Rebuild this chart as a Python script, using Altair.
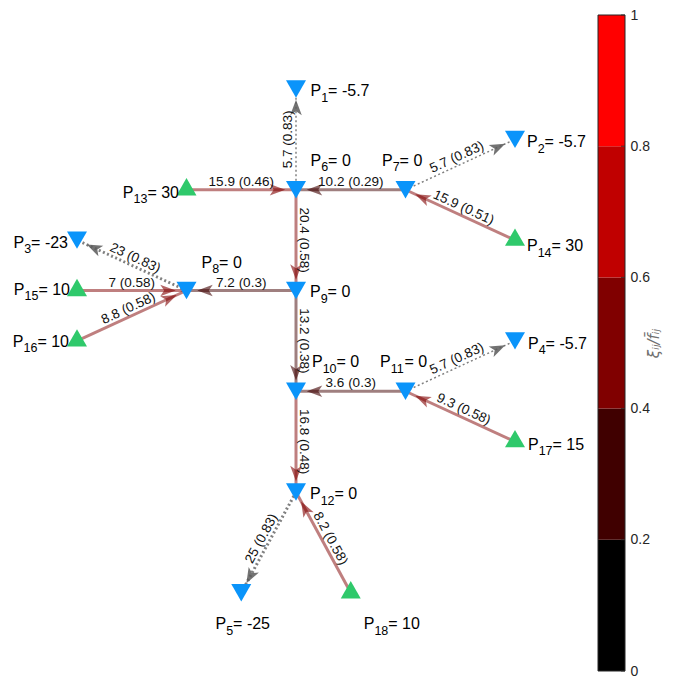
import math
import altair as alt
import pandas as pd

# ------------------------------------------------------------------ data
node_ids = list(range(1, 19))
node_x = [0, 2, -2, 2, -0.5, 0, 1, -1, 0, 0, 1, 0, -1, 2, -2, -2, 2, 0.5]
node_y = [4, 3.5, 2.5, 1.5, -1, 3, 3, 2, 2, 1, 1, 0, 3, 2.5, 2, 1.5, 0.5, -1]
node_value = ["-5.7", "-5.7", "-23", "-5.7", "-25", "0", "0", "0", "0", "0",
              "0", "0", "30", "30", "10", "10", "15", "10"]
node_type = ["demand"] * 12 + ["supply"] * 6

edge_src = [6, 7, 8, 11, 12, 13, 7, 14, 6, 15, 16, 9, 9, 11, 17, 10, 18]
edge_dst = [1, 2, 3, 4, 5, 6, 6, 7, 9, 8, 8, 8, 10, 10, 11, 12, 12]
edge_flow = [5.7, 5.7, 23, 5.7, 25, 15.9, 10.2, 15.9, 20.4, 7, 8.8, 7.2,
             13.2, 3.6, 9.3, 16.8, 8.2]
edge_ratio = [0.83, 0.83, 0.83, 0.83, 0.83, 0.46, 0.29, 0.51, 0.58, 0.58,
              0.58, 0.3, 0.38, 0.3, 0.58, 0.48, 0.58]
edge_kind = ["dotted"] * 5 + ["solid"] * 12

cbar_ticks = [0, 0.2, 0.4, 0.6, 0.8, 1]
cbar_colors = ["#000000", "#400000", "#800000", "#C00000", "#FF0000"]

# ------------------------------------------------------------------ layout / style
FONT = "Liberation Sans"
SX, SY = 109.5, 100.75          # pixels per data unit
W, H = 580, 656
XDOM = [(8 - 296) / SX, (8 + W - 296) / SX]
YTOP = (491 - 14) / SY
YDOM = [YTOP - H / SY, YTOP]

# label placement per node: (dx px, baseline dy px, align)
label_dx = [14.5, 12, -9, 13, 1.5, 14.5, -23.5, 15, 14, 16, -25.5, 14,
            -7.5, 12, -7, -8, 13, 13]
label_dy = [7, 8, 7.5, 8, 36.5, -24, -24, -23, 6.5, -24, -24, 7,
            8, 11, 4, 6, 8, 36.5]
label_al = ["left", "left", "right", "left", "center", "left", "left", "left",
            "left", "left", "left", "left", "right", "left", "right", "right",
            "left", "left"]

CW = {"P": 0.667, "=": 0.584, " ": 0.278, "-": 0.333, ".": 0.278}


def tw(s, fs):
    return sum(CW.get(c, 0.556) for c in s) * fs


FS_MAIN, FS_SUB = 16, 12.5
pos = {i: (x, y) for i, x, y in zip(node_ids, node_x, node_y)}

# nodes
nodes_rows = []
for i, x, y, t in zip(node_ids, node_x, node_y, node_type):
    if t == "demand":
        nodes_rows.append(dict(x=x, y=y, shape="triangle-down", color="#0A94FA"))
    else:
        nodes_rows.append(dict(x=x, y=y + 3 / SY, shape="triangle-up", color="#2FC96B"))
nodes_df = pd.DataFrame(nodes_rows)

# node labels (P, subscript, rest)
nl_rows = []
for k, i in enumerate(node_ids):
    sub = str(i)
    rest = "= " + node_value[k]
    wP, wS, wR = tw("P", FS_MAIN), tw(sub, FS_SUB), tw(rest, FS_MAIN)
    total = wP + wS + wR
    if label_al[k] == "left":
        start = label_dx[k]
    elif label_al[k] == "right":
        start = label_dx[k] - total
    else:
        start = label_dx[k] - total / 2
    bx = node_x[k] + start / SX
    by = node_y[k] - label_dy[k] / SY
    nl_rows.append(dict(x=bx, y=by, txt="P", fs=FS_MAIN))
    nl_rows.append(dict(x=bx + wP / SX, y=by - 5.5 / SY, txt=sub, fs=FS_SUB))
    nl_rows.append(dict(x=bx + (wP + wS) / SX, y=by, txt=rest, fs=FS_MAIN))
nl_df = pd.DataFrame(nl_rows)

# edges, arrows, edge labels
e_rows, a_rows, l_rows = [], [], []
for s, d, f, r, kind in zip(edge_src, edge_dst, edge_flow, edge_ratio, edge_kind):
    xs_, ys_ = pos[s]
    xt, yt = pos[d]
    vx, vy = (xt - xs_) * SX, -(yt - ys_) * SY
    L = math.hypot(vx, vy)
    ux, uy = vx / L, vy / L
    ang = math.degrees(math.atan2(vy, vx))
    if kind == "solid":
        col = cbar_colors[min(int(r / 0.2), 4)]
        w, op, acol, aop = 3.0, 0.5, col, 0.6
    else:
        col = "#808080"
        w, op, acol, aop = 1.0 + f / 12.0, 1.0, "#5a5a5a", 0.85
    e_rows.append(dict(x=xs_, y=ys_, x2=xt, y2=yt, color=col, w=w, op=op, kind=kind))
    back = 18.5
    a_rows.append(dict(x=xt - back * ux / SX, y=yt + back * uy / SY,
                       ang=(ang + 360) % 360, color=acol, op=aop))
    la = ang
    if la > 90:
        la -= 180
    if la < -90:
        la += 180
    l_rows.append(dict(x=(xs_ + xt) / 2, y=(ys_ + yt) / 2,
                       txt=f"{f:g} ({r:g})", ang=(la + 360) % 360))
edges_df = pd.DataFrame(e_rows)
arrows_df = pd.DataFrame(a_rows)
elab_df = pd.DataFrame(l_rows)

xs = alt.Scale(domain=XDOM, nice=False, zero=False)
ys = alt.Scale(domain=YDOM, nice=False, zero=False)


def X():
    return alt.X("x:Q", scale=xs, axis=None)


def Y():
    return alt.Y("y:Q", scale=ys, axis=None)


ARROW = "M1,0L-1,-0.75L-0.5,0L-1,0.75Z"

dotted = alt.Chart(edges_df[edges_df.kind == "dotted"]).mark_rule(
    strokeDash=[2, 2.5], strokeCap="butt").encode(
    x=X(), y=Y(), x2="x2:Q", y2="y2:Q",
    color=alt.Color("color:N", scale=None),
    strokeWidth=alt.StrokeWidth("w:Q", scale=None))

solid = alt.Chart(edges_df[edges_df.kind == "solid"]).mark_rule(
    strokeCap="butt", opacity=0.5).encode(
    x=X(), y=Y(), x2="x2:Q", y2="y2:Q",
    color=alt.Color("color:N", scale=None),
    strokeWidth=alt.StrokeWidth("w:Q", scale=None))

arrows = alt.Chart(arrows_df).mark_point(
    shape=ARROW, size=240, filled=True, strokeWidth=0).encode(
    x=X(), y=Y(),
    angle=alt.Angle("ang:Q", scale=None),
    color=alt.Color("color:N", scale=None),
    opacity=alt.Opacity("op:Q", scale=None))

nodes = alt.Chart(nodes_df).mark_point(
    filled=True, size=400, opacity=1, strokeWidth=0).encode(
    x=X(), y=Y(),
    shape=alt.Shape("shape:N", scale=None),
    color=alt.Color("color:N", scale=None))

elab = alt.Chart(elab_df).mark_text(
    font=FONT, fontSize=13.5, align="center", baseline="alphabetic",
    dy=-4, color="#111111").encode(
    x=X(), y=Y(), text="txt:N", angle=alt.Angle("ang:Q", scale=None))

nlab = alt.Chart(nl_df).mark_text(
    font=FONT, align="left", baseline="alphabetic", color="#000000").encode(
    x=X(), y=Y(), text="txt:N", size=alt.Size("fs:Q", scale=None))

network = alt.layer(dotted, solid, arrows, nodes, elab, nlab).properties(
    width=W, height=H)

# ------------------------------------------------------------------ colorbar
cb_df = pd.DataFrame({"lo": cbar_ticks[:-1], "hi": cbar_ticks[1:], "color": cbar_colors})
cb_scale = alt.Scale(domain=[0, 1], nice=False, zero=False)
cbar_rect = alt.Chart(cb_df).mark_rect().encode(
    x=alt.value(0), x2=alt.value(27),
    y=alt.Y("lo:Q", scale=cb_scale, axis=alt.Axis(
        orient="right", values=cbar_ticks, format="~g", ticks=False,
        domain=False, grid=False, labelFont=FONT, labelFontSize=14,
        labelColor="#262626", labelPadding=5,
        title="ξᵢⱼ/f̄ᵢⱼ", titleFont="DejaVu Sans", titleFontSize=15,
        titleFontStyle="italic", titleFontWeight="normal",
        titleColor="#707070", titleAngle=270, titlePadding=12)),
    y2="hi:Q",
    color=alt.Color("color:N", scale=None))

cb_tick_df = pd.DataFrame({"lo": cbar_ticks})
cbar_ticks_l = alt.Chart(cb_tick_df).mark_rule(color="#262626", strokeWidth=0.8).encode(
    x=alt.value(23), x2=alt.value(27), y=alt.Y("lo:Q", scale=cb_scale))

cb_box_df = pd.DataFrame({"lo": [0], "hi": [1]})
cbar_box = alt.Chart(cb_box_df).mark_rect(
    fillOpacity=0, stroke="#262626", strokeWidth=1).encode(
    x=alt.value(0), x2=alt.value(27),
    y=alt.Y("lo:Q", scale=cb_scale), y2="hi:Q")

cbar = alt.layer(cbar_rect, cbar_ticks_l, cbar_box).properties(width=27, height=H)

chart = alt.hconcat(network, cbar, spacing=10, bounds="flush").properties(
    padding={"left": 0, "top": 0, "right": 5, "bottom": 0}
).configure_view(strokeWidth=0)

chart.save("out.html", embed_options={"renderer": "svg", "actions": False})
